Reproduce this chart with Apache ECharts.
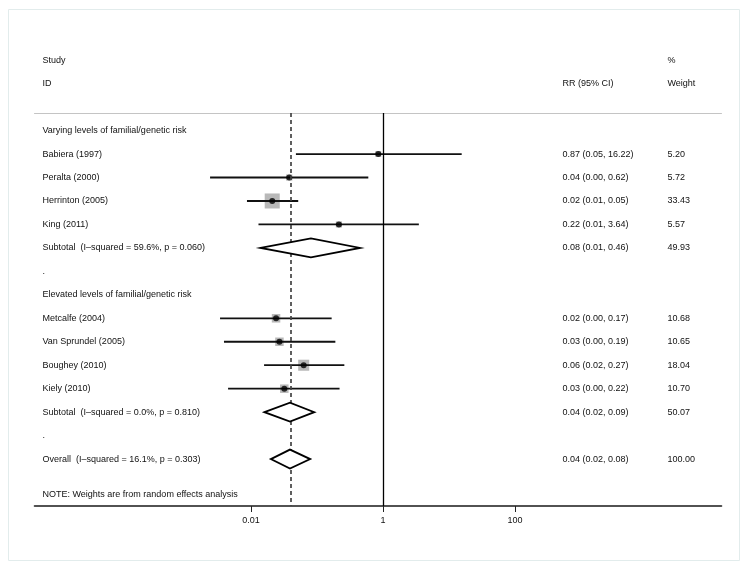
<!DOCTYPE html>
<html><head><meta charset="utf-8">
<script src="https://cdn.jsdelivr.net/npm/echarts@6/dist/echarts.min.js"></script>
<style>html,body{margin:0;padding:0;background:#fff}#c{width:751px;height:570px}</style>
</head><body><div id="c"></div>
<script>
// ---- data ----
const studyNames = ['Babiera (1997)','Peralta (2000)','Herrinton (2005)','King (2011)','Metcalfe (2004)','Van Sprundel (2005)','Boughey (2010)','Kiely (2010)'];
const studyRows = [2,3,4,5,9,10,11,12];
const studyRR = [0.85,0.038,0.021,0.215,0.024,0.027,0.063,0.032];
const studyLo = [0.048,0.0024,0.0087,0.013,0.0034,0.0039,0.0158,0.0045];
const studyHi = [15.6,0.60,0.052,3.5,0.167,0.19,0.26,0.22];
const studyWeight = [5.20,5.72,33.43,5.57,10.68,10.65,18.04,10.70];
const studyCI = ['0.87 (0.05, 16.22)','0.04 (0.00, 0.62)','0.02 (0.01, 0.05)','0.22 (0.01, 3.64)','0.02 (0.00, 0.17)','0.03 (0.00, 0.19)','0.06 (0.02, 0.27)','0.03 (0.00, 0.22)'];
const studyWeightText = ['5.20','5.72','33.43','5.57','10.68','10.65','18.04','10.70'];

const pooledNames = ['Subtotal  (I\u2013squared = 59.6%, p = 0.060)','Subtotal  (I\u2013squared = 0.0%, p = 0.810)','Overall  (I\u2013squared = 16.1%, p = 0.303)'];
const pooledRows = [6,13,15];
const pooledRR = [0.081,0.039,0.039];
const pooledLo = [0.014,0.016,0.020];
const pooledHi = [0.45,0.091,0.079];
const pooledCI = ['0.08 (0.01, 0.46)','0.04 (0.02, 0.09)','0.04 (0.02, 0.08)'];
const pooledWeightText = ['49.93','50.07','100.00'];

const groupNames = ['Varying levels of familial/genetic risk','Elevated levels of familial/genetic risk'];
const groupRows = [1,8];
const spacerRows = [7,14];
const noteText = 'NOTE: Weights are from random effects analysis';
const noteRow = 16.5;
const overallRR = 0.039;
const xTicks = [0.01, 1, 100];

// ---- chart ----
const FONT = "'Liberation Sans', Arial, sans-serif";
const TXT = '#111';
const chart = echarts.init(document.getElementById('c'), null, {renderer:'canvas'});

const ciData = studyRows.map((r,i)=>[studyLo[i], studyHi[i], r]);
const sqData = studyRows.map((r,i)=>[studyRR[i], r, studyWeight[i]]);
const dotData = studyRows.map((r,i)=>[studyRR[i], r]);
const diaData = pooledRows.map((r,i)=>[pooledLo[i], pooledRR[i], pooledHi[i], r]);

chart.setOption({
  animation:false,
  backgroundColor:'#fff',
  grid:{left:34.5, right:29.5, top:113, bottom:64, containLabel:false},
  xAxis:[{
    type:'log', logBase:10, min:Math.pow(10,-5.28), max:Math.pow(10,5.13),
    position:'bottom',
    axisLine:{show:true, lineStyle:{color:'#1a1a1a', width:1.6}},
    axisTick:{show:true, length:6, customValues:xTicks, lineStyle:{color:'#222', width:1}},
    axisLabel:{show:true, customValues:xTicks, fontSize:9, fontFamily:FONT, color:TXT, margin:10,
      formatter:v=>String(+(+v).toPrecision(6))},
    splitLine:{show:false}, minorTick:{show:false}, minorSplitLine:{show:false}
  },{
    type:'value', position:'top', min:0, max:1,
    axisLine:{show:true, onZero:false, lineStyle:{color:'#c4c4c4', width:1}},
    axisTick:{show:false}, axisLabel:{show:false}, splitLine:{show:false}
  }],
  yAxis:{type:'value', min:0.25, max:17, inverse:true, show:false},
  series:[
    {type:'custom', name:'ci', xAxisIndex:0, data:ciData, encode:{x:[0,1], y:2}, z:3, clip:false,
      renderItem:(p,api)=>{
        const a = api.coord([api.value(0), api.value(2)]);
        const b = api.coord([api.value(1), api.value(2)]);
        return {type:'line', shape:{x1:a[0],y1:a[1],x2:b[0],y2:b[1]}, style:{stroke:'#111', lineWidth:1.8}};
      }},
    {type:'custom', name:'weights', xAxisIndex:0, data:sqData, encode:{x:0, y:1}, z:2, clip:false,
      renderItem:(p,api)=>{
        const c = api.coord([api.value(0), api.value(1)]);
        const s = 2.6*Math.sqrt(api.value(2));
        return {type:'rect', shape:{x:c[0]-s/2, y:c[1]-s/2, width:s, height:s}, style:{fill:'#b8b8b8'}};
      }},
    {type:'scatter', name:'est', xAxisIndex:0, data:dotData, symbol:'circle', symbolSize:6,
      itemStyle:{color:'#000'}, z:4, clip:false,
      markLine:{silent:true, symbol:'none', label:{show:false}, animation:false,
        data:[
          {xAxis:1, lineStyle:{color:'#000', width:1.3, type:'solid'}},
          {xAxis:overallRR, lineStyle:{color:'#444', width:1.7, type:[4,3]}}
        ]}},
    {type:'custom', name:'pooled', xAxisIndex:0, data:diaData, encode:{x:[0,1,2], y:3}, z:5, clip:false,
      renderItem:(p,api)=>{
        const r = api.value(3);
        const l = api.coord([api.value(0), r]);
        const m = api.coord([api.value(1), r]);
        const h = api.coord([api.value(2), r]);
        const hh = 9.5;
        return {type:'polygon', shape:{points:[[l[0],l[1]],[m[0],m[1]-hh],[h[0],h[1]],[m[0],m[1]+hh]]},
          style:{fill:'#fff', stroke:'#000', lineWidth:1.8}};
      }}
  ]
});

// ---- text columns ----
const yOf = r => chart.convertToPixel({yAxisIndex:0}, r);
const colStudy = 42.5, colCI = 562.5, colW = 667.5;
const texts = [];
function t(x, row, s){
  texts.push({type:'text', x:x, y:yOf(row), silent:true, z:10,
    style:{text:s, fontSize:9, fontFamily:FONT, fill:TXT, align:'left', verticalAlign:'middle'}});
}
t(colStudy, -2, 'Study'); t(colStudy, -1, 'ID');
t(colW, -2, '%'); t(colW, -1, 'Weight'); t(colCI, -1, 'RR (95% CI)');
groupRows.forEach((r,i)=>t(colStudy, r, groupNames[i]));
spacerRows.forEach(r=>t(colStudy, r, '.'));
studyRows.forEach((r,i)=>{ t(colStudy, r, studyNames[i]); t(colCI, r, studyCI[i]); t(colW, r, studyWeightText[i]); });
pooledRows.forEach((r,i)=>{ t(colStudy, r, pooledNames[i]); t(colCI, r, pooledCI[i]); t(colW, r, pooledWeightText[i]); });
t(colStudy, noteRow, noteText);
texts.push({type:'rect', silent:true, z:0, shape:{x:8.5, y:9.5, width:731, height:551},
  style:{fill:null, stroke:'#e2ecec', lineWidth:1}});
chart.setOption({graphic:texts});
</script>
</body></html>
